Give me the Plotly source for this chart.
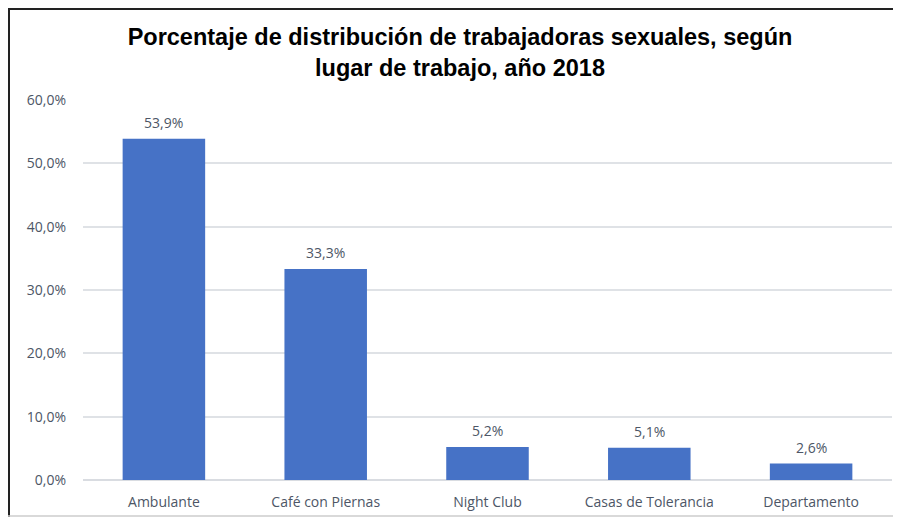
import plotly.graph_objects as go

categories = ["Ambulante", "Café con Piernas", "Night Club", "Casas de Tolerancia", "Departamento"]
values = [53.9, 33.3, 5.2, 5.1, 2.6]
y_ticks = [0, 10, 20, 30, 40, 50, 60]

title_text = "<b>Porcentaje de distribución de trabajadoras sexuales, según<br>lugar de trabajo, año 2018</b>"

text_color = "#4d5666"
font_family = "'Open Sans', sans-serif"

def fmt_pct(v):
    return f"{v:.1f}%".replace(".", ",")

fig = go.Figure()
fig.add_trace(go.Bar(
    x=categories,
    y=values,
    marker=dict(color="#4672c6", line=dict(width=0)),
    hoverinfo="skip",
))

for c, v in zip(categories, values):
    fig.add_annotation(
        x=c, y=v, text=fmt_pct(v), showarrow=False,
        xanchor="center", yanchor="bottom", yshift=5,
        font=dict(size=14, color=text_color, family=font_family),
    )

# The page has an 8px body margin on every side; keep the figure inside the
# window so no scrollbars appear.
W, H = 885, 509
ml, mr, mt, mb = 75, 1, 92, 37
pw, ph = W - ml - mr, H - mt - mb

def px_x(p):
    return (p - ml) / pw

def px_y(p):
    return (H - mb - p) / ph

shapes = [
    dict(type="line", xref="paper", yref="paper", x0=px_x(1), x1=px_x(1), y0=px_y(0), y1=px_y(H),
         line=dict(color="#222222", width=2)),
    dict(type="line", xref="paper", yref="paper", x0=px_x(0), x1=px_x(W), y0=px_y(1), y1=px_y(1),
         line=dict(color="#222222", width=2)),
    dict(type="line", xref="paper", yref="paper", x0=px_x(0), x1=px_x(W), y0=px_y(H - 1), y1=px_y(H - 1),
         line=dict(color="#cccccc", width=1.5)),
]

fig.update_layout(
    width=W, height=H,
    margin=dict(l=ml, r=mr, t=mt, b=mb, autoexpand=False),
    paper_bgcolor="white",
    plot_bgcolor="white",
    separators=",.",
    bargap=0.49,
    showlegend=False,
    title=dict(
        text=title_text,
        x=452 / W, xanchor="center",
        y=1 - 37 / H, yanchor="middle",
        font=dict(family="Liberation Sans, Arial, sans-serif", size=23.5, color="black"),
    ),
    shapes=shapes,
    xaxis=dict(
        showgrid=False,
        showline=False,
        ticks="",
        automargin=False,
        tickfont=dict(size=14, color=text_color, family=font_family),
        ticklabelstandoff=12,
    ),
    yaxis=dict(
        range=[0, 60],
        tickvals=y_ticks,
        ticktext=[fmt_pct(v) for v in y_ticks],
        showgrid=True,
        gridcolor="#dfe2e6",
        gridwidth=1.5,
        zeroline=True,
        zerolinecolor="#d9dce1",
        zerolinewidth=2,
        showline=False,
        ticks="",
        automargin=False,
        tickfont=dict(size=14, color=text_color, family=font_family),
        ticklabelstandoff=16,
    ),
)

fig.write_html("out.html")
